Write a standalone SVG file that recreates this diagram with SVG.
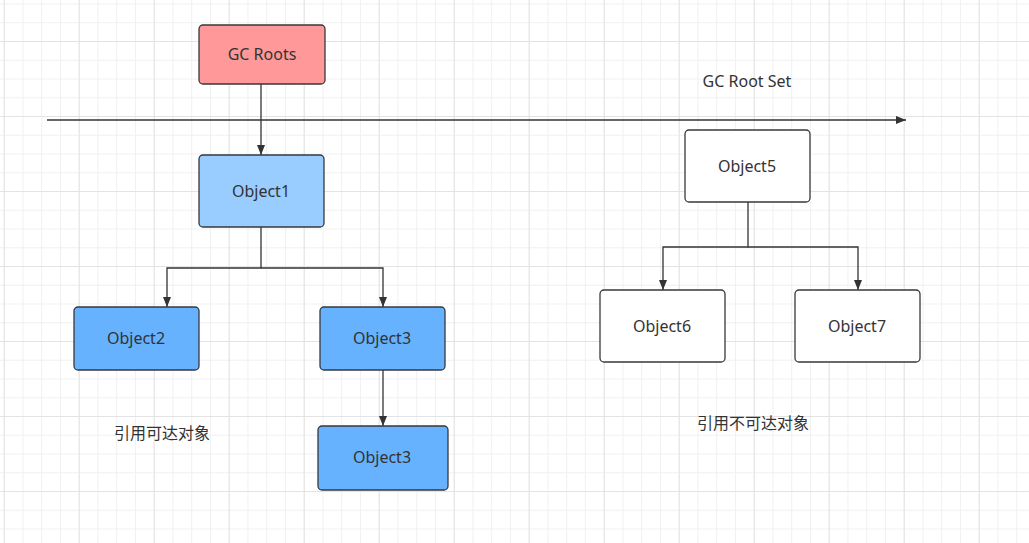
<svg xmlns="http://www.w3.org/2000/svg" width="1029" height="543" viewBox="0 0 1029 543">
<style>
.n{stroke:#36393d;stroke-width:1.3}
.t{font-family:"Noto Sans","Noto Sans CJK SC",sans-serif;font-size:16px;fill:#333;text-anchor:middle;dominant-baseline:central}
.c{fill:none;stroke:#333;stroke-width:1.3}
</style>
<defs>
<pattern id="minor" patternUnits="userSpaceOnUse" x="3.7" y="3.5" width="18.75" height="18.75">
<path d="M0 0.5H18.75M0.5 0V18.75" stroke="#f0f0f0" stroke-width="1" fill="none"/>
</pattern>
<pattern id="major" patternUnits="userSpaceOnUse" x="3.7" y="41" width="75" height="75">
<path d="M0 0.5H75M0.5 0V75" stroke="#e3e3e3" stroke-width="1" fill="none"/>
</pattern>
<marker id="ar" viewBox="0 0 10 10" refX="10" refY="5" markerWidth="10" markerHeight="10" markerUnits="userSpaceOnUse" orient="auto">
<path d="M0 1 L10 5 L0 9 Z" fill="#333"/>
</marker>
</defs>
<rect width="1029" height="543" fill="#ffffff"/>
<rect width="1029" height="543" fill="url(#minor)"/>
<rect width="1029" height="543" fill="url(#major)"/>
<g id="connectors">
<path class="c" d="M47 120H906" marker-end="url(#ar)"/>
<path class="c" d="M261 84V155" marker-end="url(#ar)"/>
<path class="c" d="M261 227V268H167V307" marker-end="url(#ar)"/>
<path class="c" d="M261 268H383V307" marker-end="url(#ar)"/>
<path class="c" d="M383 370V426" marker-end="url(#ar)"/>
<path class="c" d="M748 202V247H663V290" marker-end="url(#ar)"/>
<path class="c" d="M748 247H858V290" marker-end="url(#ar)"/>
</g>
<g id="gcroots"><rect class="n" x="199" y="25" width="126" height="59" rx="4" fill="#ff9999"/><text class="t" x="262" y="54">GC Roots</text></g>
<g id="object1"><rect class="n" x="199" y="155" width="125" height="72" rx="4" fill="#99ccff"/><text class="t" x="261" y="191">Object1</text></g>
<g id="object2"><rect class="n" x="74" y="307" width="125" height="63" rx="4" fill="#66b2ff"/><text class="t" x="136" y="338">Object2</text></g>
<g id="object3a"><rect class="n" x="320" y="307" width="125" height="63" rx="4" fill="#66b2ff"/><text class="t" x="382" y="338">Object3</text></g>
<g id="object3b"><rect class="n" x="318" y="426" width="130" height="64" rx="4" fill="#66b2ff"/><text class="t" x="382" y="457">Object3</text></g>
<g id="object5"><rect class="n" x="685" y="130" width="125" height="72" rx="4" fill="#ffffff"/><text class="t" x="747" y="166">Object5</text></g>
<g id="object6"><rect class="n" x="600" y="290" width="125" height="72" rx="4" fill="#ffffff"/><text class="t" x="662" y="326">Object6</text></g>
<g id="object7"><rect class="n" x="795" y="290" width="125" height="72" rx="4" fill="#ffffff"/><text class="t" x="857" y="326">Object7</text></g>
<g id="labels">
<text class="t" x="747" y="81">GC Root Set</text>
<text class="t" x="162" y="433">引用可达对象</text>
<text class="t" x="753" y="423">引用不可达对象</text>
</g>
</svg>
